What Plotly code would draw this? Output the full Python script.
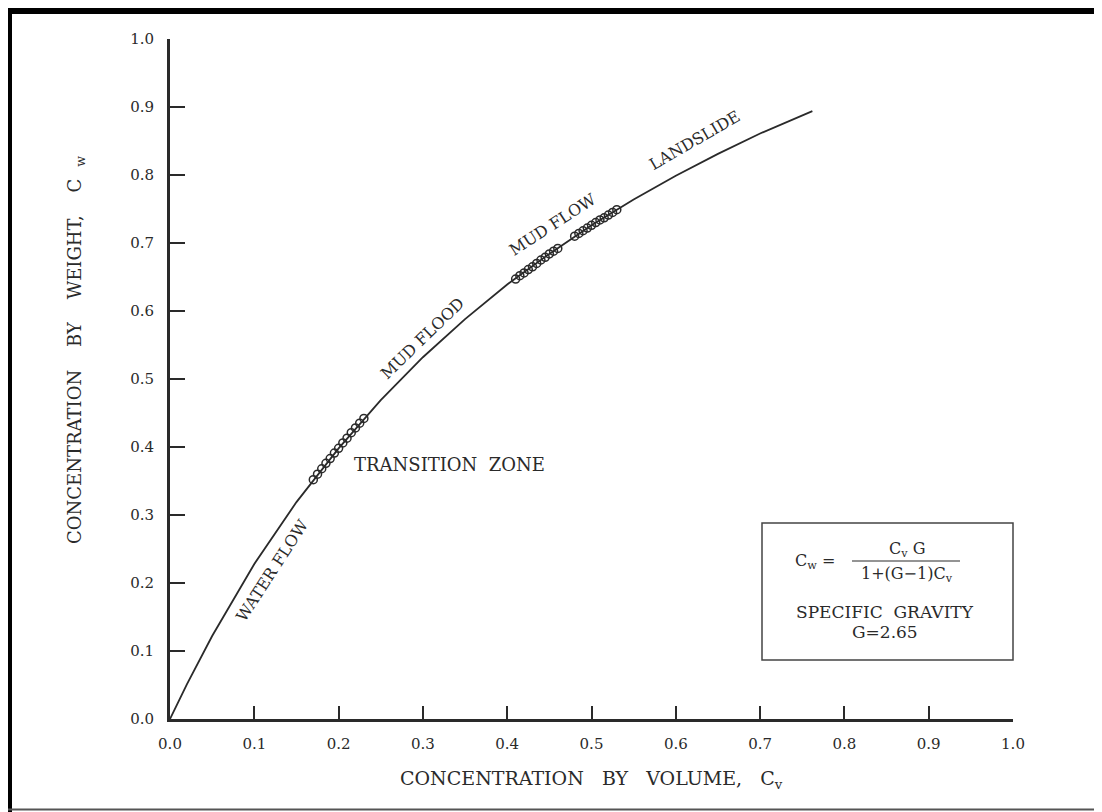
import plotly.graph_objects as go

# ---- data ----
cv_curve = [0.0, 0.02, 0.05, 0.10, 0.15, 0.20, 0.25, 0.30, 0.35, 0.40, 0.45, 0.50, 0.55, 0.60, 0.65, 0.70, 0.762]
cw_curve = [0.0, 0.051, 0.122, 0.228, 0.319, 0.398, 0.469, 0.532, 0.588, 0.639, 0.684, 0.726, 0.764, 0.799, 0.831, 0.861, 0.894]

cv_transition = [0.17, 0.175, 0.18, 0.185, 0.19, 0.195, 0.20, 0.205, 0.21, 0.215, 0.22, 0.225, 0.23]
cw_transition = [0.352, 0.360, 0.368, 0.376, 0.383, 0.391, 0.398, 0.406, 0.413, 0.421, 0.428, 0.435, 0.442]

cv_mudflow = [0.41, 0.415, 0.42, 0.425, 0.43, 0.435, 0.44, 0.445, 0.45, 0.455, 0.46, None,
              0.48, 0.485, 0.49, 0.495, 0.50, 0.505, 0.51, 0.515, 0.52, 0.525, 0.53]
cw_mudflow = [0.647, 0.652, 0.656, 0.661, 0.665, 0.670, 0.675, 0.679, 0.684, 0.688, 0.692, None,
              0.710, 0.714, 0.718, 0.722, 0.726, 0.730, 0.734, 0.737, 0.741, 0.745, 0.749]

tick_vals = [0.0, 0.1, 0.2, 0.3, 0.4, 0.5, 0.6, 0.7, 0.8, 0.9, 1.0]
tick_text = ["0.0", "0.1", "0.2", "0.3", "0.4", "0.5", "0.6", "0.7", "0.8", "0.9", "1.0"]

zone_labels = ["WATER FLOW", "MUD FLOOD", "MUD FLOW", "LANDSLIDE"]
zone_x = [0.121, 0.299, 0.454, 0.622]
zone_y = [0.219, 0.560, 0.727, 0.851]
zone_angle = [-57, -44, -33, -30]

# page offset (body margin) compensation
OFF = 8
W, H = 1102 - OFF, 812 - OFF
PL, PR, PT, PB = 170, 1013, 39, 719      # plot area in page pixels
L, T = PL - OFF, PT - OFF
R, B = W - (PR - OFF), H - (PB - OFF)
PW, PH = PR - PL, PB - PT

def px(x):
    return (x - PL) / PW

def py(y):
    return (PB - y) / PH

SERIF = "DejaVu Serif, Liberation Serif, serif"
INK = "#2a2a2a"

fig = go.Figure()
fig.add_trace(go.Scatter(x=cv_curve, y=cw_curve, mode="lines",
                         line=dict(color=INK, width=1.8), hoverinfo="skip"))
for xs, ys in [(cv_transition, cw_transition), (cv_mudflow, cw_mudflow)]:
    fig.add_trace(go.Scatter(x=xs, y=ys, mode="markers",
                             marker=dict(symbol="circle-open", size=8, color=INK,
                                         line=dict(width=1.5, color=INK)),
                             hoverinfo="skip"))

def ann(x, y, text, size, angle=0, xanchor="center", ref="paper"):
    return dict(x=x, y=y, xref=ref if ref == "paper" else "x", yref=ref if ref == "paper" else "y",
                text=text, textangle=angle, showarrow=False, xanchor=xanchor, yanchor="middle",
                font=dict(family=SERIF, size=size, color=INK))

annotations = []
for t, x, y, a in zip(zone_labels, zone_x, zone_y, zone_angle):
    annotations.append(ann(x, y, t, 16, a, ref="data"))
annotations.append(ann(0.216, 0.374, "TRANSITION&nbsp;&nbsp;ZONE", 18, xanchor="left", ref="data"))

annotations += [
    ann(px(907), py(549), "C<sub>v</sub> G", 16),
    ann(px(907), py(574), "1+(G\u22121)C<sub>v</sub>", 16),
    ann(px(815), py(561), "C<sub>w</sub> =", 16),
    ann(px(885), py(612), "SPECIFIC&nbsp;&nbsp;GRAVITY", 17),
    ann(px(885), py(632), "G=2.65", 17),
    ann(px(591), py(780), "CONCENTRATION&nbsp;&nbsp;&nbsp;BY&nbsp;&nbsp;&nbsp;VOLUME,&nbsp;&nbsp;&nbsp;C<sub>v</sub>", 19),
    ann(px(76), py(350), "CONCENTRATION&nbsp;&nbsp;&nbsp;&nbsp;BY&nbsp;&nbsp;&nbsp;&nbsp;WEIGHT,&nbsp;&nbsp;&nbsp;&nbsp;C<sub>&nbsp;&nbsp;&nbsp;w</sub>", 18, angle=-90),
]

def pline(x0, y0, x1, y1, color, width):
    return dict(type="line", xref="paper", yref="paper", x0=px(x0), x1=px(x1), y0=py(y0), y1=py(y1),
                line=dict(color=color, width=width))

shapes = [
    dict(type="rect", xref="paper", yref="paper", x0=px(762), x1=px(1013), y0=py(660), y1=py(523),
         line=dict(color="#444", width=1.5)),
    pline(852, 561, 960, 561, INK, 1.2),
    # image frame
    pline(10, 812, 10, 8, "black", 4),
    pline(8, 11, 1102, 11, "black", 6),
    pline(1097, 760, 1097, 8, "black", 6),
    pline(8, 809.5, 1102, 809.5, "#555", 2),
]

fig.update_layout(
    width=W, height=H, margin=dict(l=L, r=R, t=T, b=B),
    paper_bgcolor="white", plot_bgcolor="white", showlegend=False,
    annotations=annotations, shapes=shapes,
    font=dict(family=SERIF, color=INK),
)
fig.update_xaxes(range=[0, 1.0], tickvals=tick_vals, ticktext=tick_text, ticks="inside",
                 ticklen=13, tickwidth=1.5, tickcolor=INK, showline=True, linewidth=2.5,
                 linecolor=INK, showgrid=False, zeroline=False, ticklabelstandoff=9,
                 tickfont=dict(family=SERIF, size=15, color=INK))
fig.update_yaxes(range=[0, 1.0], tickvals=tick_vals, ticktext=tick_text, ticks="inside",
                 ticklen=15, tickwidth=1.5, tickcolor=INK, showline=True, linewidth=3,
                 linecolor=INK, showgrid=False, zeroline=False, ticklabelstandoff=10,
                 tickfont=dict(family=SERIF, size=15, color=INK))

fig.write_html("out.html")
